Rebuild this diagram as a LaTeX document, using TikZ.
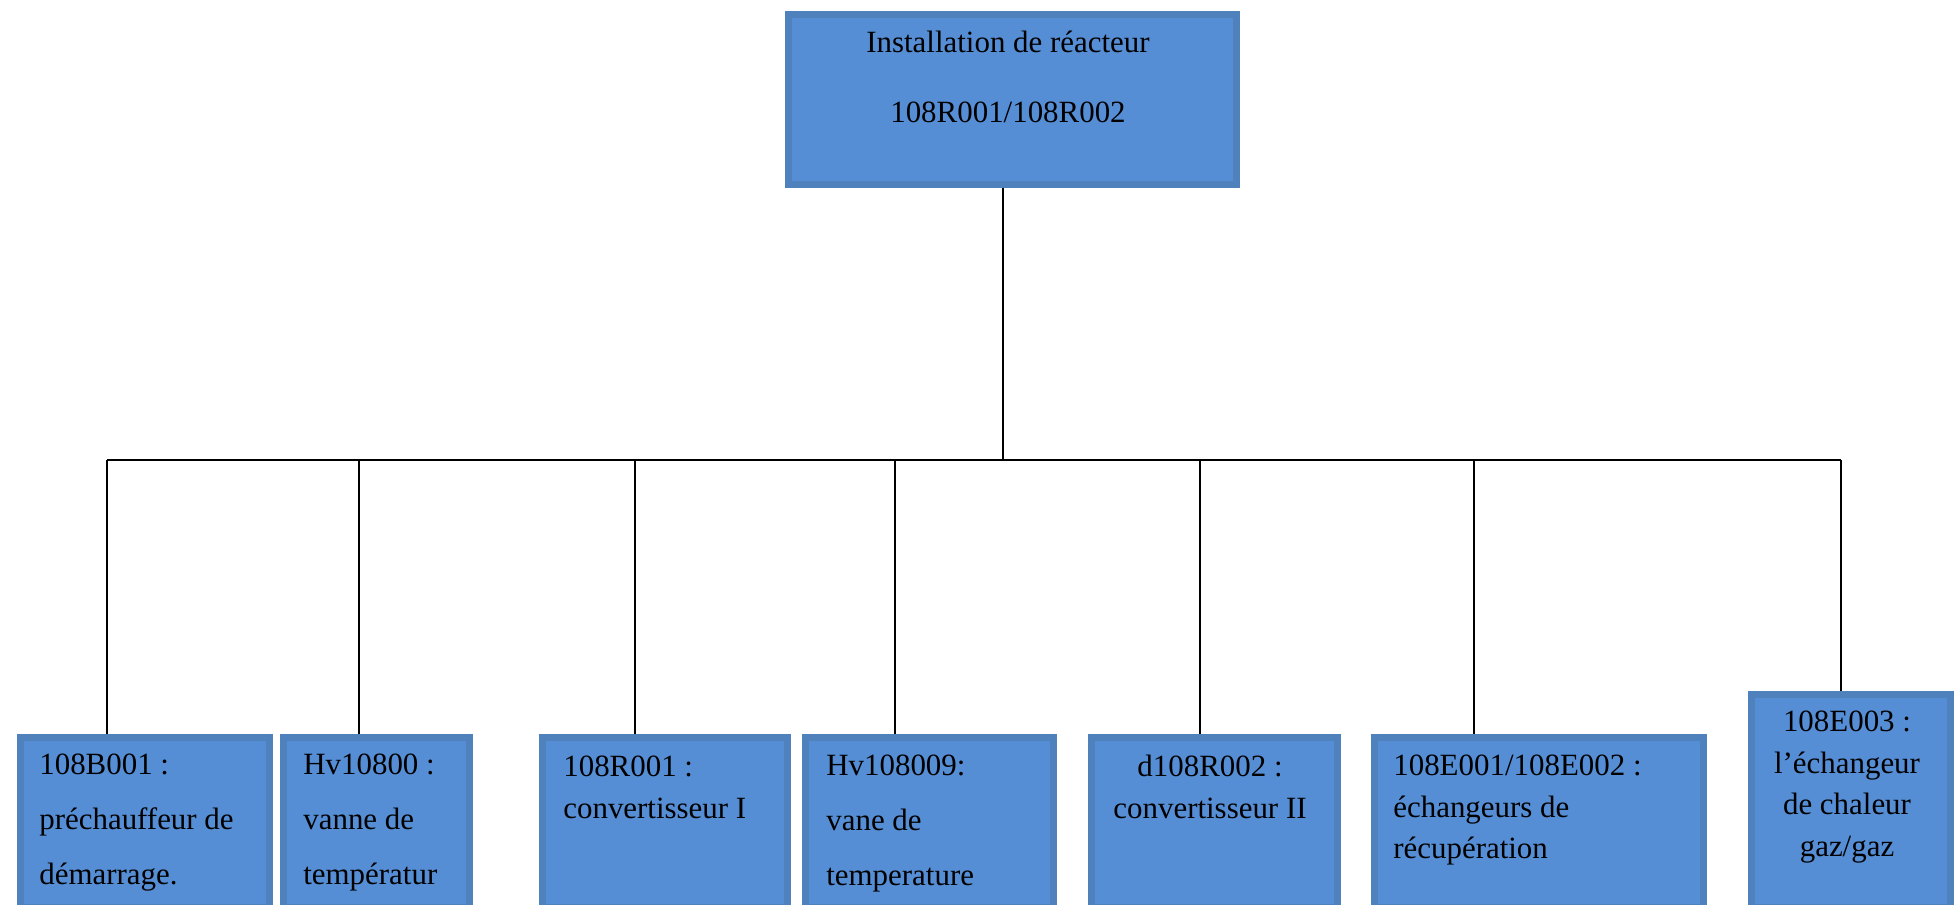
\documentclass[tikz,border=0pt]{standalone}
\usepackage{fontspec}
\setmainfont{Liberation Serif}
\definecolor{boxfill}{RGB}{85,142,213}
\definecolor{boxedge}{RGB}{79,129,189}
\newdimen\pxu \pxu=0.02cm
\tikzset{
  blk/.style={draw=boxedge, fill=boxfill, line width=7\pxu, anchor=north west, inner sep=0pt},
  lbl/.style={inner sep=0pt, text=black, align=left, anchor=north west, font=\fontsize{17.6pt}{23.6pt}\selectfont},
  lblc/.style={lbl, align=center, anchor=north},
  airy/.style={font=\fontsize{17.6pt}{31.3pt}\selectfont},
  link/.style={line width=1.1pt, black}
}
\begin{document}
\begin{tikzpicture}[x=0.02cm, y=-0.02cm]
\useasboundingbox (0,0) rectangle (1955,904);
\clip (0,0) rectangle (1955,904);
\node[blk, minimum width=448\pxu, minimum height=170\pxu] (b0) at (784.5,10.5) {};
\node[blk, minimum width=249\pxu, minimum height=170\pxu] (b1) at (16.5,733.5) {};
\node[blk, minimum width=186\pxu, minimum height=170\pxu] (b2) at (279.5,733.5) {};
\node[blk, minimum width=245\pxu, minimum height=170\pxu] (b3) at (538.5,733.5) {};
\node[blk, minimum width=248\pxu, minimum height=170\pxu] (b4) at (801.5,733.5) {};
\node[blk, minimum width=246\pxu, minimum height=170\pxu] (b5) at (1087.5,733.5) {};
\node[blk, minimum width=329\pxu, minimum height=170\pxu] (b6) at (1370.5,733.5) {};
\node[blk, minimum width=199\pxu, minimum height=213\pxu] (b7) at (1747.5,690.5) {};
\node[lblc, font=\fontsize{17.6pt}{39.8pt}\selectfont] (t0) at (1008,31) {Installation de réacteur\\108R001/108R002};
\node[lbl, airy] (t1) at (39,754) {108B001 :\\préchauffeur de\\démarrage.};
\node[lbl, airy] (t2) at (303,754) {Hv10800 :\\vanne de\\températur};
\node[lbl] (t3) at (563,756) {108R001 :\\convertisseur I};
\node[lbl, airy] (t4) at (826,755) {Hv108009:\\vane de\\temperature};
\node[lblc] (t5) at (1210,755) {d108R002 :\\convertisseur II};
\node[lbl] (t6) at (1393,755) {108E001/108E002 :\\échangeurs de\\récupération};
\node[lblc] (t7) at (1847,711) {108E003 :\\l{\char"27}échangeur\\de chaleur\\gaz/gaz};
\coordinate (hub) at (1003,460);
\coordinate (d1) at (107,460);
\coordinate (d2) at (359,460);
\coordinate (d3) at (635,460);
\coordinate (d4) at (895,460);
\coordinate (d5) at (1200,460);
\coordinate (d6) at (1474,460);
\coordinate (d7) at (1841,460);
\draw[link] (b0.south -| hub) -- (hub);
\draw[link] (d1) -- (d7);
\draw[link] (d1) -- (d1 |- b1.north);
\draw[link] (d2) -- (d2 |- b2.north);
\draw[link] (d3) -- (d3 |- b3.north);
\draw[link] (d4) -- (d4 |- b4.north);
\draw[link] (d5) -- (d5 |- b5.north);
\draw[link] (d6) -- (d6 |- b6.north);
\draw[link] (d7) -- (d7 |- b7.north);
\end{tikzpicture}
\end{document}
